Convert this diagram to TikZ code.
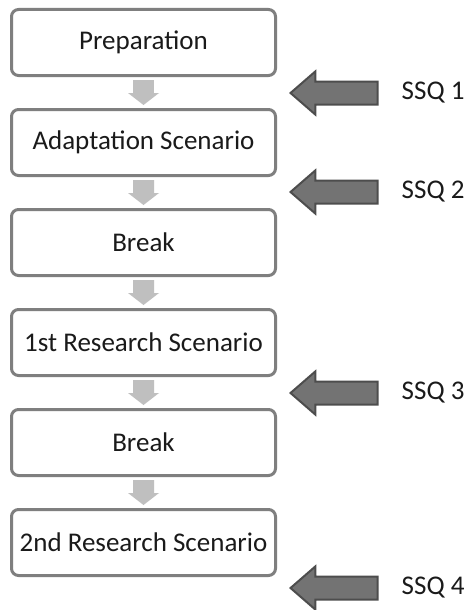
\documentclass[tikz,border=0pt]{standalone}
\usepackage{fontspec}
\setmainfont{Carlito}
\usetikzlibrary{arrows.meta,positioning,shapes.arrows}
\definecolor{boxgray}{HTML}{7F7F7F}
\definecolor{flowgray}{HTML}{BFBFBF}
\definecolor{ssqfill}{HTML}{737373}
\definecolor{ssqline}{HTML}{4D4D4D}
\definecolor{textblack}{HTML}{1A1A1A}
\tikzset{
  stage/.style = {draw=boxgray, line width=3pt, rounded corners=7pt,
    fill=white, minimum width=264pt, minimum height=66pt, inner sep=0pt,
    font=\fontsize{27}{32}\selectfont, text=textblack},% step of the session
  flow/.style = {draw=flowgray, line width=21pt,
    -{Triangle[width=31pt,length=12pt,line width=0pt]},
    shorten <=3pt, shorten >=3pt},% light arrow between two steps
  ssq_arrow/.style = {single arrow, shape border rotate=180, draw=ssqline,
    fill=ssqfill, line width=2pt, minimum height=87pt,
    text height=21pt, text depth=0pt, text width=0pt,
    single arrow head extend=10pt, single arrow tip angle=82,
    inner sep=0pt},% dark arrow, questionnaire
  ssq_label/.style = {font=\fontsize{27}{32}\selectfont, text=textblack,
    inner sep=0pt, anchor=west}
}

\begin{document}
\begin{tikzpicture}[level distance=100pt, edge from parent/.style={flow}]
    \useasboundingbox[fill=white] (0,0) rectangle (473pt,-610pt);
    \node [stage] (prep) at (143.5pt,-42.5pt) {Preparation}
        child{ node [stage] (adapt) {Adaptation Scenario}
          child{ node [stage] (pause1) {Break}
            child{ node [stage] (rsone) {1st Research Scenario}
              child{ node [stage] (pause2) {Break}
                child{ node [stage] (rstwo) {2nd Research Scenario}}
              }
            }
          }
        }
    ;
    \foreach \stg/\num/\dy in {prep/1/16pt, adapt/2/15pt, rsone/3/16pt, rstwo/4/11pt}{
      \node [ssq_arrow, anchor=tip] (arrow\num) at ([xshift=12pt,yshift=-\dy]\stg.south east) {};
      \node [ssq_label, right=23pt of arrow\num.tail] (ssq\num) {SSQ \num};
    }
\end{tikzpicture}
\end{document}
